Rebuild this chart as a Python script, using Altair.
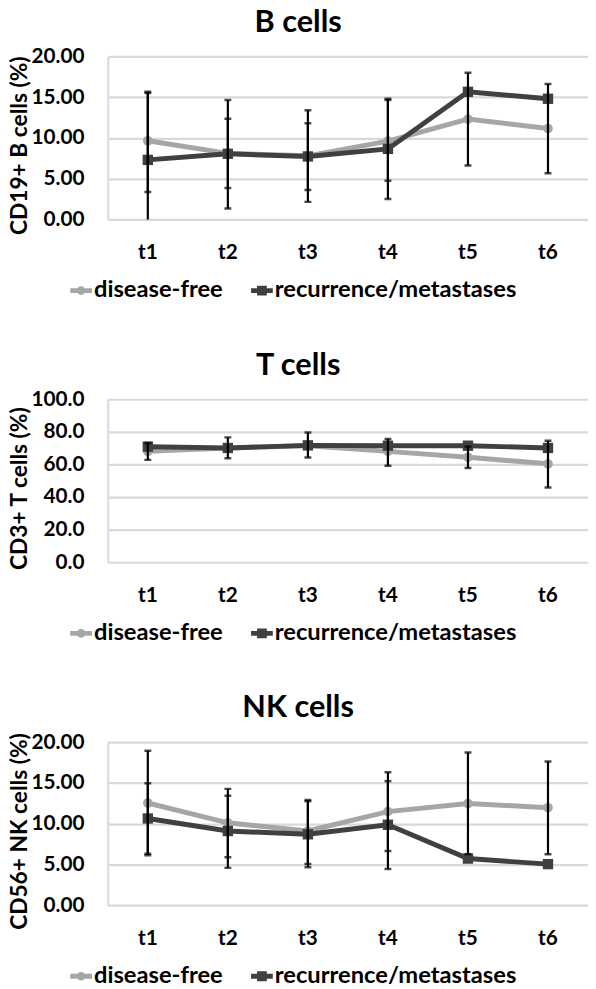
import altair as alt
import pandas as pd

times = ["t1", "t2", "t3", "t4", "t5", "t6"]
series_names = ["disease-free", "recurrence/metastases"]

# B cells
b_free = [9.65, 8.1, 7.8, 9.6, 12.3, 11.15]
b_recur = [7.3, 8.05, 7.72, 8.65, 15.65, 14.8]
b_free_lo = [3.35, 3.85, 3.6, 4.75, 6.6, 5.65]
b_free_hi = [15.65, 12.35, 11.8, 14.65, 18.0, 16.6]
b_recur_lo = [-0.5, 1.35, 2.15, 2.5, None, None]
b_recur_hi = [15.5, 14.65, 13.4, 14.8, None, None]

# T cells
t_free = [68.0, 70.0, 71.5, 68.0, 64.4, 60.4]
t_recur = [70.9, 70.1, 71.7, 71.5, 71.5, 70.1]
t_free_lo = [62.8, 63.8, 64.2, 59.2, 57.8, 45.9]
t_free_hi = [73.2, 76.6, 79.6, 75.6, 71.0, 74.5]
t_recur_lo = [None, None, None, None, None, None]
t_recur_hi = [None, None, None, None, None, None]

# NK cells
nk_free = [12.53, 10.1, 9.1, 11.47, 12.47, 11.95]
nk_recur = [10.63, 9.09, 8.69, 9.86, 5.71, 5.03]
nk_free_lo = [6.13, 5.86, 5.05, 6.64, 6.25, 6.24]
nk_free_hi = [18.95, 14.26, 12.9, 16.3, 18.71, 17.63]
nk_recur_lo = [6.3, 4.57, 4.65, 4.43, None, None]
nk_recur_hi = [14.95, 13.41, 12.75, 15.21, None, None]

LIGHT = "#a6a6a6"
DARK = "#404040"
FONT = "Lato"

CIRCLE_PATH = ("M-1,-0.22L1,-0.22L1,0.22L-1,0.22Z "
               "M0.4,0A0.4,0.4 0 1,1 -0.4,0A0.4,0.4 0 1,1 0.4,0Z")
SQUARE_PATH = ("M-1,-0.22L1,-0.22L1,0.22L-1,0.22Z "
               "M-0.45,-0.45L0.45,-0.45L0.45,0.45L-0.45,0.45Z")


def make_panel(title, ytitle, free, recur, f_lo, f_hi, r_lo, r_hi, ymax, ystep, fmt):
    rows = []
    for t, v in zip(times, free):
        rows.append({"time": t, "series": series_names[0], "value": v})
    for t, v in zip(times, recur):
        rows.append({"time": t, "series": series_names[1], "value": v})
    df = pd.DataFrame(rows)
    err = []
    for t, lo, hi in zip(times, f_lo, f_hi):
        if lo is not None:
            err.append({"time": t, "series": series_names[0], "lo": lo, "hi": hi})
    for t, lo, hi in zip(times, r_lo, r_hi):
        if lo is not None:
            err.append({"time": t, "series": series_names[1], "lo": lo, "hi": hi})
    edf = pd.DataFrame(err)

    xaxis = alt.Axis(labelAngle=0, ticks=False, domain=False, grid=False, labelPadding=23)
    yaxis = alt.Axis(values=[i * ystep for i in range(int(ymax / ystep) + 1)],
                     format=fmt, ticks=False, labelPadding=24, titlePadding=0,
                     labelOverlap=False, titleLimit=400, titleY=90,
                     titleFontSize=23,
                     domainColor="#d9d9d9", domainWidth=2,
                     gridColor="#d9d9d9", gridWidth=2.2)
    yscale = alt.Scale(domain=[0, ymax], nice=False)

    def X():
        return alt.X("time:N", sort=times, title=None, axis=xaxis)

    def Y(field):
        return alt.Y(field + ":Q", title=ytitle, scale=yscale, axis=yaxis)

    cscale = alt.Scale(domain=series_names, range=[LIGHT, DARK])
    leg = alt.Legend(title=None, orient="none", direction="horizontal",
                     legendX=-39, legendY=225, padding=0,
                     symbolSize=484, symbolStrokeWidth=0, symbolOpacity=1,
                     labelFont=FONT, labelFontWeight="bold",
                     labelFontSize=24, labelColor="#000000", labelLimit=400,
                     labelOffset=1, columnPadding=27)

    base = alt.Chart(df)
    legend_layer = base.mark_point(filled=True, opacity=0).encode(
        x=X(), y=Y("value"),
        color=alt.Color("series:N", scale=cscale, legend=leg),
        shape=alt.Shape("series:N", scale=alt.Scale(domain=series_names,
                                                     range=[CIRCLE_PATH, SQUARE_PATH]),
                        legend=leg))
    stroke_enc = alt.Stroke("series:N", scale=cscale, legend=None)
    fill_enc = alt.Fill("series:N", scale=cscale, legend=None)
    f_line = base.transform_filter(alt.datum.series == series_names[0]).mark_line(strokeWidth=5).encode(
        x=X(), y=Y("value"), stroke=stroke_enc)
    f_pt = base.transform_filter(alt.datum.series == series_names[0]).mark_point(
        shape="circle", filled=True, size=95, opacity=1).encode(x=X(), y=Y("value"), fill=fill_enc)
    r_line = base.transform_filter(alt.datum.series == series_names[1]).mark_line(strokeWidth=5).encode(
        x=X(), y=Y("value"), stroke=stroke_enc)
    r_pt = base.transform_filter(alt.datum.series == series_names[1]).mark_point(
        shape="square", filled=True, size=110, opacity=1).encode(x=X(), y=Y("value"), fill=fill_enc)

    ebase = alt.Chart(edf)
    rule = ebase.mark_rule(color="black", strokeWidth=2.2, clip=True).encode(
        x=X(), y=Y("lo"), y2="hi:Q")
    cap_lo = ebase.mark_tick(color="black", size=7, thickness=2.5, clip=True).encode(
        x=X(), y=Y("lo"))
    cap_hi = ebase.mark_tick(color="black", size=7, thickness=2.5, clip=True).encode(
        x=X(), y=Y("hi"))

    return alt.layer(legend_layer, f_line, f_pt, r_line, r_pt, rule, cap_lo, cap_hi).properties(
        width=486, height=165,
        title=alt.Title(title, font=FONT, fontSize=31, fontWeight="bold", color="#000000",
                        anchor="middle", frame="bounds", offset=7))


p1 = make_panel("B cells", "CD19+ B cells (%)", b_free, b_recur, b_free_lo, b_free_hi,
                b_recur_lo, b_recur_hi, 20, 5, ".2f")
p2 = make_panel("T cells", "CD3+ T cells (%)", t_free, t_recur, t_free_lo, t_free_hi,
                t_recur_lo, t_recur_hi, 100, 20, ".1f")
p3 = make_panel("NK cells", "CD56+ NK cells (%)", nk_free, nk_recur, nk_free_lo, nk_free_hi,
                nk_recur_lo, nk_recur_hi, 20, 5, ".2f")

chart = alt.vconcat(p1, p2, p3, spacing=48).resolve_scale(
    color="independent", shape="independent", fill="independent", stroke="independent",
    y="independent").resolve_legend(
    color="independent", shape="independent").properties(
    padding={"left": 0, "top": -7, "right": 0, "bottom": 0}).configure_view(
    stroke=None).configure_axis(
    labelFont=FONT, labelFontWeight="bold", labelFontSize=21, labelColor="#000000",
    titleFont=FONT, titleFontWeight="bold", titleFontSize=23, titleColor="#000000")

chart.save("out.html", embed_options={"renderer": "svg", "actions": False})
